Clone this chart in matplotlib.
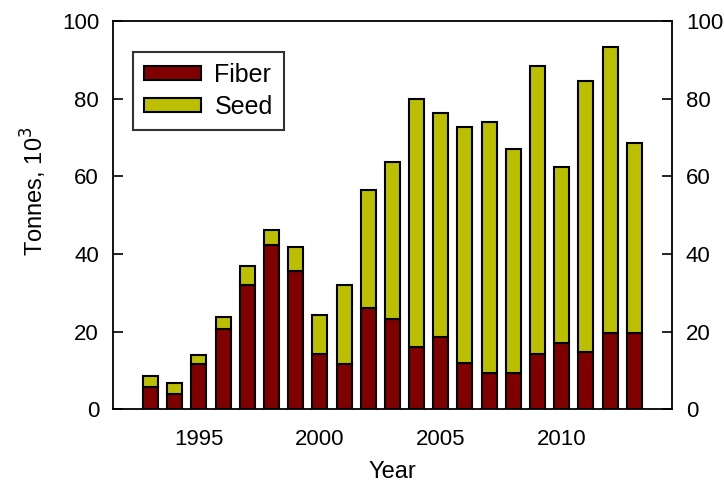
import numpy as np
import matplotlib
matplotlib.use('Agg')
import matplotlib.pyplot as plt

# values (tonnes, 10^3)
years = np.arange(1993, 2014)
fiber = [5.9, 4.0, 11.7, 20.6, 32.0, 42.3, 35.6, 14.2, 11.7, 26.0, 23.2,
         16.2, 18.7, 11.9, 9.3, 9.3, 14.3, 17.2, 14.7, 19.8, 19.6]
total = [8.6, 6.7, 14.1, 23.9, 36.8, 46.2, 41.9, 24.3, 31.9, 56.5, 63.6,
         79.9, 76.4, 72.6, 73.9, 67.1, 88.5, 62.3, 84.6, 93.2, 68.5]
seed = [t - f for t, f in zip(total, fiber)]
xticks = [1995, 2000, 2005, 2010]
yticks = [0, 20, 40, 60, 80, 100]

plt.rcParams['font.family'] = ['Liberation Sans', 'DejaVu Sans']

fig = plt.figure(figsize=(7.24, 4.84), dpi=100)
ax = fig.add_axes([0.156, 0.154, 0.772, 0.803])

ax.bar(years, fiber, width=0.62, color='#800000', edgecolor='black', lw=1.5,
       label='Fiber', zorder=2)
ax.bar(years, seed, bottom=fiber, width=0.62, color='#BBBF00',
       edgecolor='black', lw=1.5, label='Seed', zorder=2)

ax.set_xlim(1991.45, 2014.55)
ax.set_ylim(0, 100)
ax.set_xticks(xticks)
ax.set_yticks(yticks)
ax.tick_params(axis='x', length=0, pad=14, labelsize=16)
ax.tick_params(axis='y', direction='in', length=7, width=1.2, labelsize=16,
               right=True, labelright=True, pad=10)
for s in ax.spines.values():
    s.set_linewidth(1.3)

ax.set_xlabel('Year', fontsize=17, labelpad=8)
ax.set_ylabel('Tonnes, 10$^3$', fontsize=17)
ax.yaxis.set_label_coords(-0.114, 0.562)

leg = ax.legend(loc='upper left', bbox_to_anchor=(0.036, 0.92), fontsize=18,
                frameon=True, fancybox=False, edgecolor='black',
                handlelength=2.25, handleheight=0.5, handletextpad=0.55,
                labelspacing=0.3, borderpad=0.45, borderaxespad=0)
leg.get_frame().set_linewidth(1.5)

fig.savefig('out.png', dpi=100)
